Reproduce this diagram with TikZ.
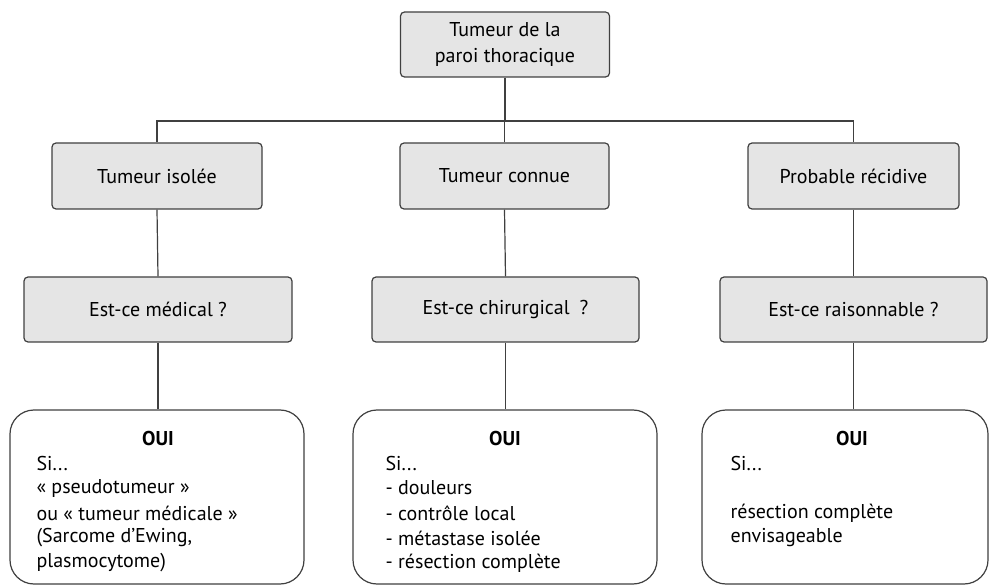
\documentclass[tikz,border=0pt]{standalone}
\usepackage{fontspec}
\setmainfont{PT Sans}
\begin{document}
\begin{tikzpicture}[x=1pt,y=-1pt,
  line width=1.2pt,
  every node/.style={font=\fontsize{20}{26}\selectfont},
  lbox/.style={draw=black!75, fill=black!10, rounded corners=4pt, inner sep=0pt, align=center},
  bigbox/.style={draw=black!75, fill=white, rounded corners=24pt},
  conn/.style={draw=black!75, line width=1.2pt},
  btxt/.style={anchor=west, inner sep=0pt, font=\fontsize{20}{25}\selectfont},
  oui/.style={inner sep=0pt, font=\bfseries\fontsize{20}{25}\selectfont}
]
\useasboundingbox (0,0) rectangle (989,588);

% top
\node[lbox, minimum width=209pt, minimum height=65pt] (top) at (505,44.5) {Tumeur de la\\paroi thoracique};

% level 2
\node[lbox, minimum width=210pt, minimum height=66pt] (a2) at (157,176) {Tumeur isolée};
\node[lbox, minimum width=209pt, minimum height=66pt] (b2) at (504.5,176) {Tumeur connue};
\node[lbox, minimum width=211pt, minimum height=66pt] (c2) at (853.5,176) {Probable récidive};

% level 3
\node[lbox, minimum width=268pt, minimum height=65pt] (a3) at (158,309.5) {Est-ce médical ?};
\node[lbox, minimum width=267pt, minimum height=65pt] (b3) at (505.5,309.5) {Est-ce chirurgical\enspace?};
\node[lbox, minimum width=267pt, minimum height=65pt] (c3) at (853.5,309.5) {Est-ce raisonnable ?};

% level 4 boxes
\draw[bigbox] (10,410) rectangle (304,584);
\node[inner sep=0pt, minimum width=294pt, minimum height=174pt] (a4) at (157,497) {};
\draw[bigbox] (353,410) rectangle (657,584);
\node[inner sep=0pt, minimum width=304pt, minimum height=174pt] (b4) at (505,497) {};
\draw[bigbox] (702,410) rectangle (988,584);
\node[inner sep=0pt, minimum width=286pt, minimum height=174pt] (c4) at (845,497) {};

% texts in bottom boxes
\node[oui] (a4t) at (158,438) {OUI};
\node[btxt] (a41) at (36,463) {Si...};
\node[btxt] (a42) at (36,488) {« pseudotumeur~»};
\node[btxt] (a43) at (36,513) {ou « tumeur médicale »};
\node[btxt] (a44) at (36,538) {(Sarcome d'Ewing,};
\node[btxt] (a45) at (36,563) {plasmocytome)};

\node[oui] (b4t) at (505,438) {OUI};
\node[btxt] (b41) at (385,463) {Si...};
\node[btxt] (b42) at (385,488) {- douleurs};
\node[btxt] (b43) at (385,513) {- contrôle local};
\node[btxt] (b44) at (385,538) {- métastase isolée};
\node[btxt] (b45) at (385,563) {- résection complète};

\node[oui] (c4t) at (852,438) {OUI};
\node[btxt] (c41) at (730,463) {Si...};
\node[btxt] (c42) at (730,513) {résection complète};
\node[btxt] (c43) at (730,538) {envisageable};

% connectors
\coordinate (j) at (505,121);
\draw[conn] (top.south) -- (j);
\draw[conn] (a2.north) -- (a2.north |- j) -- (c2.north |- j) -- (c2.north);
\draw[conn] (b2.north) -- (b2.north |- j);
\draw[conn] (a2.south) -- (a3.north);
\draw[conn] (b2.south) -- (b3.north);
\draw[conn] (c2.south) -- (c3.north);
\draw[conn] (a3.south) -- (a3.south |- a4.north);
\draw[conn] (b3.south) -- (b3.south |- b4.north);
\draw[conn] (c3.south) -- (c3.south |- c4.north);
\end{tikzpicture}
\end{document}
